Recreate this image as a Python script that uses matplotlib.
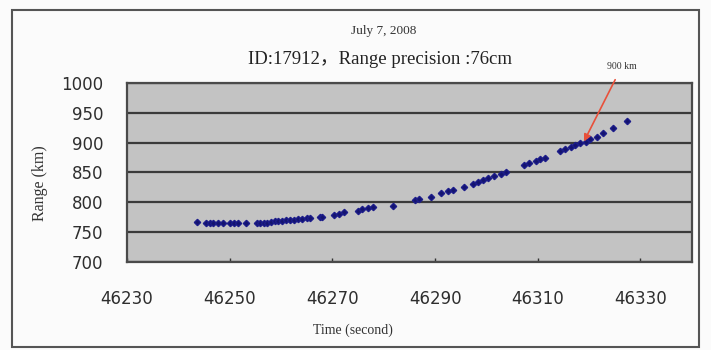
import matplotlib
matplotlib.use('Agg')
import matplotlib.pyplot as plt
from matplotlib.patches import Rectangle

# time (s) and range (km)
time_s = [46243.7, 46245.4, 46246.1, 46246.8, 46247.8, 46248.7, 46250.0, 46250.9,
          46251.7, 46253.1, 46255.4, 46256.0, 46256.7, 46257.3, 46258.1, 46258.8,
          46259.4, 46260.2, 46261.0, 46261.7, 46262.5, 46263.3, 46264.1, 46265.0,
          46265.7, 46267.5, 46267.9, 46270.4, 46271.2, 46272.3, 46274.9, 46275.8,
          46276.9, 46278.0, 46281.9, 46286.0, 46286.9, 46289.2, 46291.2, 46292.5,
          46293.5, 46295.6, 46297.4, 46298.3, 46299.3, 46300.3, 46301.4, 46302.8,
          46303.8, 46307.3, 46308.2, 46309.6, 46310.5, 46311.5, 46314.4, 46315.4,
          46316.4, 46317.3, 46318.3, 46319.3, 46320.2, 46321.6, 46322.7, 46324.7,
          46327.4]
range_km = [767, 766, 766, 766, 766, 766, 765, 765,
            765, 765, 765, 765, 766, 766, 767, 768,
            768, 769, 770, 770, 771, 772, 772, 773,
            773, 775, 776, 779, 781, 783, 786, 788,
            790, 793, 794, 804, 805, 809, 815, 819,
            820, 826, 830, 834, 837, 841, 844, 847,
            851, 862, 866, 869, 873, 874, 886, 889,
            893, 896, 899, 901, 906, 909, 916, 924,
            937]
x_ticks = [46230, 46250, 46270, 46290, 46310, 46330]
y_ticks = [700, 750, 800, 850, 900, 950, 1000]

fig = plt.figure(figsize=(7.11, 3.5), dpi=100, facecolor='#fbfbfb')
ax = fig.add_axes([0.1786, 0.2514, 0.7944, 0.5116])
ax.set_facecolor('#c3c3c3')

ax.plot(time_s, range_km, linestyle='none', marker='D', markersize=3.2,
        color='#14146e', markeredgecolor='#1c1c8a', zorder=3)

ax.set_xlim(46230, 46340)
ax.set_ylim(700, 1000)
ax.set_xticks(x_ticks)
ax.set_yticks(y_ticks)
ax.tick_params(axis='x', direction='in', length=3, width=1, color='#333333',
               labelsize=12, pad=20, labelcolor='#2e2e2e')
ax.tick_params(axis='y', length=0, labelsize=12, pad=17, labelcolor='#2e2e2e')
ax.grid(axis='y', color='#3a3a3a', linewidth=1.6)
ax.set_axisbelow(True)
for s in ax.spines.values():
    s.set_color('#4a4a4a')
    s.set_linewidth(1.6)

ax.set_xlabel('Time (second)', family='Liberation Serif', fontsize=10, color='#333333')
ax.xaxis.set_label_coords(0.4, -0.345)
ax.set_ylabel('Range (km)', family='Liberation Serif', fontsize=11.5, color='#333333')
ax.yaxis.set_label_coords(-0.14, 0.44)

fig.text(0.54, 0.911, 'July 7, 2008', family='Liberation Serif', fontsize=9.5,
         ha='center', va='center', color='#333333')
fig.text(0.535, 0.829, 'ID:17912，Range precision :76cm',
         family=['Liberation Serif', 'Noto Sans CJK SC'], fontsize=13.5,
         ha='center', va='center', color='#222222')

ax.annotate('900 km', xy=(46319.0, 902), xytext=(46326.4, 1028),
            fontsize=7, family='Liberation Serif', ha='center', va='center',
            color='#333333', annotation_clip=False,
            arrowprops=dict(arrowstyle='-|>', color='#e8503a', lw=1.2,
                            shrinkA=5, shrinkB=0, mutation_scale=10))

fig.patches.append(Rectangle((12 / 711, 3 / 350), 687 / 711, 337 / 350,
                             transform=fig.transFigure, fill=False,
                             edgecolor='#555555', linewidth=1.5))

fig.savefig('out.png', dpi=100, facecolor=fig.get_facecolor())
